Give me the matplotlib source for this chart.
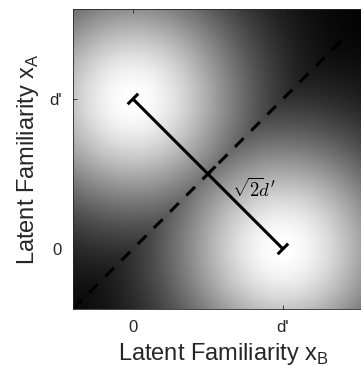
import numpy as np
import matplotlib.pyplot as plt

# model: two equal-variance bumps, old items at (0, d') and (d', 0)
means_b = [0.0, 1.0]
means_a = [1.0, 0.0]
sigma = 0.56
lims = [-0.4, 1.6]

seg_b = [0.0, 1.0]   # sqrt(2) d' separation segment
seg_a = [1.0, 0.0]
diag = [-0.4, 1.4]   # decision diagonal x_A = x_B

tick_vals = [0, 1]
tick_labels = ["0", "d'"]

plt.rcParams['font.family'] = ['Liberation Sans', 'DejaVu Sans']

fig = plt.figure(figsize=(3.61, 3.74), dpi=100)
ax = fig.add_axes([0.202, 0.174, 0.831, 0.802])

g = np.linspace(lims[0], lims[1], 300)
xb, xa = np.meshgrid(g, g)
z = np.zeros_like(xb)
for mb, ma in zip(means_b, means_a):
    z = np.maximum(z, np.exp(-((xb - mb) ** 2 + (xa - ma) ** 2) / (2 * sigma ** 2)))
ax.imshow(z, cmap='gray', origin='lower', extent=lims + lims,
          interpolation='bilinear', aspect='auto', vmin=0, vmax=1)

ax.plot(diag, diag, color='k', lw=2.2, ls=(0, (4, 3.5)))
ax.plot(seg_b, seg_a, color='k', lw=2.2, solid_capstyle='butt')

# end caps and midpoint tick
c = 0.035
for b, a in zip(seg_b, seg_a):
    ax.plot([b - c, b + c], [a - c, a + c], color='k', lw=2.2, solid_capstyle='butt')
mb = np.mean(seg_b)
ma = np.mean(seg_a)
ax.plot([mb, mb + 0.05], [ma, ma + 0.05], color='k', lw=2.2, solid_capstyle='butt')

ax.text(mb + 0.31, ma - 0.1, r"$\sqrt{2}\!d'$", fontsize=13.5, math_fontfamily='cm',
        ha='center', va='center')

ax.set_xlim(lims)
ax.set_ylim(lims)
ax.set_xticks(tick_vals)
ax.set_xticklabels(tick_labels)
ax.set_yticks(tick_vals)
ax.set_yticklabels(tick_labels)
ax.tick_params(direction='in', length=3, width=0.6, color='0.15', labelsize=12,
               labelcolor='0.15', top=True, right=True, pad=8)
for s in ax.spines.values():
    s.set_color('0.15')
    s.set_linewidth(0.6)

ax.set_xlabel(r'Latent Familiarity x$_\mathregular{B}$', fontsize=17, color='0.15', labelpad=4)
ax.set_ylabel(r'Latent Familiarity x$_\mathregular{A}$', fontsize=17, color='0.15', labelpad=6)

fig.savefig('out.png', dpi=100)
